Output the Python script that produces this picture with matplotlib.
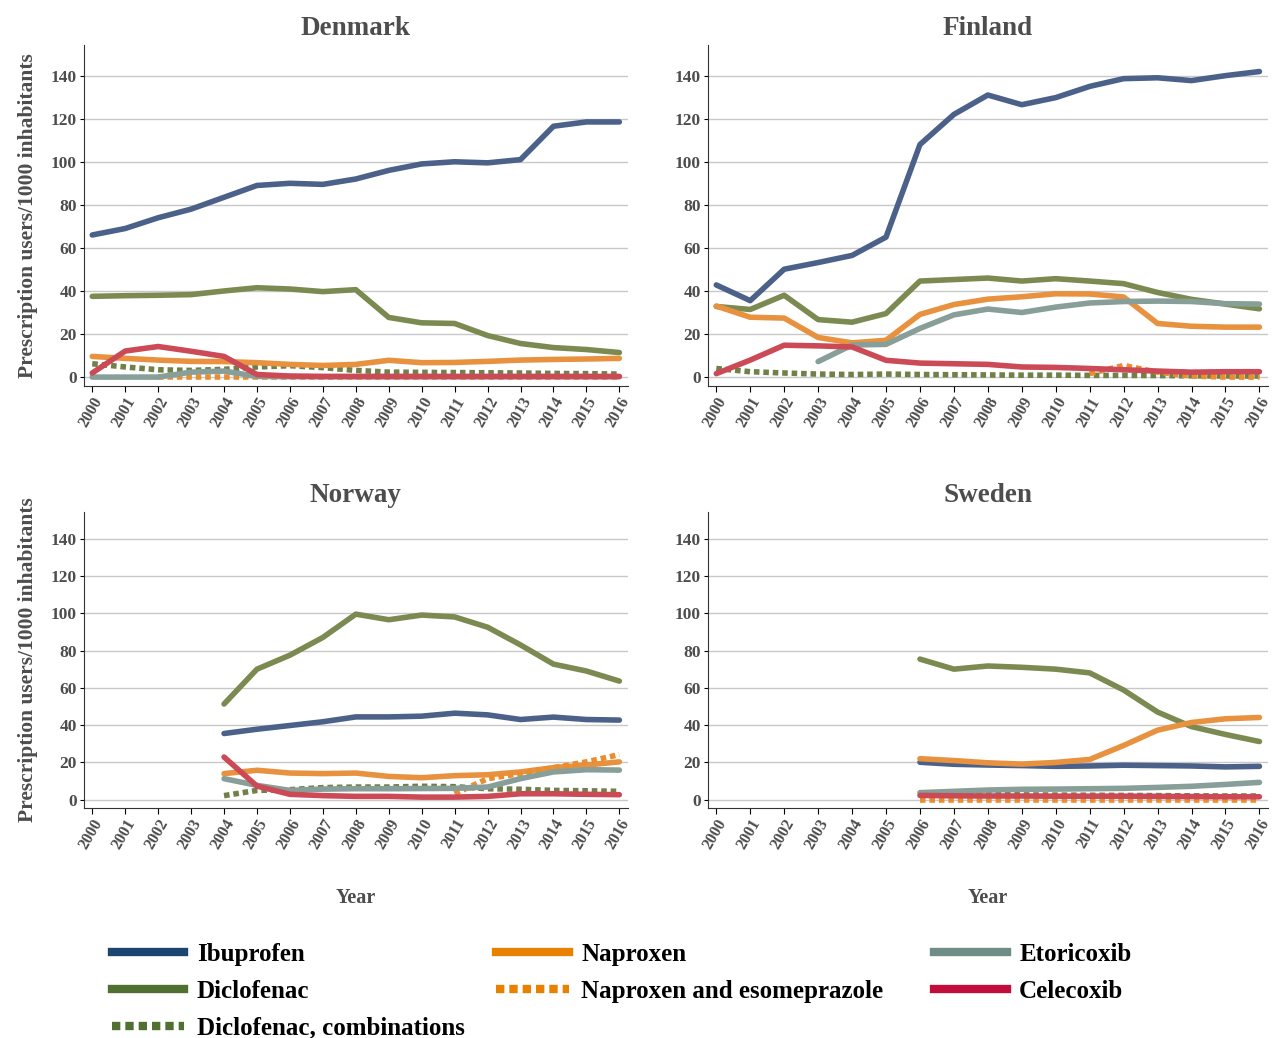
import numpy as np
import matplotlib.pyplot as plt
from matplotlib.lines import Line2D

nan = np.nan
years = list(range(2000, 2017))

drugs = ["Ibuprofen", "Diclofenac", "Diclofenac, combinations", "Naproxen",
         "Naproxen and esomeprazole", "Etoricoxib", "Celecoxib"]

denmark = {
    "Ibuprofen": [66, 69, 74, 78, 83.5, 89, 90, 89.5, 92, 96, 99, 100, 99.5, 101, 116.5, 118.5, 118.5],
    "Diclofenac": [37.5, 37.8, 38, 38.3, 40, 41.5, 40.9, 39.7, 40.6, 27.7, 25.2, 24.9, 19.3, 15.6, 13.7, 12.8, 11.4],
    "Diclofenac, combinations": [6.2, 4.7, 3.4, 3.1, 3.6, 4.7, 5.3, 4.4, 3.1, 2.3, 2.2, 2.1, 2.0, 1.9, 1.7, 1.6, 1.4],
    "Naproxen": [9.6, 8.7, 7.9, 7.3, 7.2, 6.7, 5.9, 5.4, 5.9, 7.8, 6.7, 6.8, 7.3, 7.9, 8.2, 8.4, 8.7],
    "Naproxen and esomeprazole": [nan, nan, 0.2, 0.2, 0.2, 0.2, 0.2, 0.2, 0.2, 0.2, 0.2, 0.2, 0.2, 0.2, 0.2, 0.2, 0.2],
    "Etoricoxib": [0, 0, 0, 2.3, 2.8, 0.3, 0.2, 0.2, 0.2, 0.2, 0.2, 0.2, 0.2, 0.2, 0.2, 0.2, 0.2],
    "Celecoxib": [1.9, 12.1, 14.2, 12, 9.6, 1.2, 0.5, 0.3, 0.3, 0.3, 0.3, 0.3, 0.3, 0.3, 0.3, 0.3, 0.3],
}

finland = {
    "Ibuprofen": [42.8, 35.5, 50.1, 53.2, 56.5, 65, 108, 122, 131, 126.5, 129.8, 135, 138.6, 139, 137.7, 140, 141.9],
    "Diclofenac": [32.8, 31.4, 38, 26.7, 25.5, 29.5, 44.6, 45.3, 46, 44.6, 45.7, 44.6, 43.4, 39.3, 36.1, 33.9, 31.7],
    "Diclofenac, combinations": [4, 2.5, 1.9, 1.4, 1.2, 1.4, 1.2, 1.1, 1.0, 0.9, 0.9, 0.8, 0.8, 0.7, 0.6, 0.5, 0.5],
    "Naproxen": [33, 27.8, 27.4, 18.4, 15.9, 17.1, 29.1, 33.7, 36.2, 37.3, 38.7, 38.6, 37.2, 24.9, 23.6, 23.2, 23.2],
    "Naproxen and esomeprazole": [nan, nan, nan, nan, nan, nan, nan, nan, nan, nan, nan, 1.6, 5.4, 2.3, 0.5, 0, 0],
    "Etoricoxib": [nan, nan, nan, 7.2, 14.9, 15.2, 22.6, 28.9, 31.6, 30, 32.5, 34.4, 35.1, 35.3, 35.1, 34.1, 33.9],
    "Celecoxib": [1.6, 7.9, 14.8, 14.5, 14, 7.8, 6.5, 6.2, 5.9, 4.7, 4.5, 4, 3.4, 2.8, 2.3, 2.5, 2.5],
}

norway = {
    "Ibuprofen": [nan] * 4 + [35.5, 37.8, 39.8, 41.8, 44.4, 44.4, 44.8, 46.4, 45.5, 43, 44.3, 43, 42.7],
    "Diclofenac": [nan] * 4 + [51.3, 70, 77.5, 87, 99.5, 96.5, 99, 98, 92.5, 83, 72.7, 69, 63.6],
    "Diclofenac, combinations": [nan] * 4 + [2.2, 5, 5.4, 6.5, 6.8, 6.8, 7.2, 7, 5.9, 5.6, 5, 4.8, 4.5],
    "Naproxen": [nan] * 4 + [14, 15.8, 14.3, 14, 14.3, 12.5, 11.8, 12.9, 13.4, 14.9, 17.2, 18.6, 20.3],
    "Naproxen and esomeprazole": [nan] * 11 + [3.2, 11.3, 14, 17.2, 20.3, 24.2],
    "Etoricoxib": [nan] * 4 + [11.3, 7.7, 5, 5.7, 5.9, 5.9, 6, 6.1, 6.8, 11.3, 14.9, 16.1, 15.9],
    "Celecoxib": [nan] * 4 + [22.9, 7.3, 2.9, 2.2, 1.8, 1.8, 1.4, 1.4, 1.8, 3.2, 3.2, 2.9, 2.7],
}

sweden = {
    "Ibuprofen": [nan] * 6 + [20.1, 19, 18.6, 18.3, 17.9, 18.1, 18.5, 18.3, 18.1, 17.6, 17.9],
    "Diclofenac": [nan] * 6 + [75.4, 70, 71.7, 71, 70, 68, 58.8, 47, 39.2, 35, 31.2],
    "Diclofenac, combinations": [nan] * 6 + [3.5, 3, 2.8, 2.6, 2.5, 2.4, 2.3, 2.2, 2.1, 2, 2],
    "Naproxen": [nan] * 6 + [22, 21, 19.8, 19.1, 20, 21.6, 29.1, 37.3, 41.4, 43.4, 44.1],
    "Naproxen and esomeprazole": [nan] * 6 + [0.1] * 11,
    "Etoricoxib": [nan] * 6 + [3.8, 4.5, 5.2, 5.6, 5.7, 5.9, 6.1, 6.6, 7.2, 8.2, 9.3],
    "Celecoxib": [nan] * 6 + [2.3, 2.1, 2, 2, 1.9, 1.9, 1.9, 1.8, 1.7, 1.6, 1.6],
}

line_colors = {
    "Ibuprofen": "#4b6189", "Diclofenac": "#7b8a50", "Diclofenac, combinations": "#6f8048",
    "Naproxen": "#e8923f", "Naproxen and esomeprazole": "#ea8d2e",
    "Etoricoxib": "#879e99", "Celecoxib": "#cc4a55",
}
legend_colors = {
    "Ibuprofen": "#1c4670", "Diclofenac": "#4f7030", "Diclofenac, combinations": "#4f7030",
    "Naproxen": "#e88000", "Naproxen and esomeprazole": "#e88000",
    "Etoricoxib": "#6f8d86", "Celecoxib": "#c20d3c",
}
dotted = {"Diclofenac, combinations", "Naproxen and esomeprazole"}

plt.rcParams['font.family'] = ['Liberation Serif', 'DejaVu Serif']
plt.rcParams['font.weight'] = 'bold'
txt = "#4d4d4d"

fig = plt.figure(figsize=(12.73, 10.38), dpi=100)

panels = [
    ("Denmark", denmark, [0.066, 0.628, 0.427, 0.329], True, False),
    ("Finland", finland, [0.556, 0.628, 0.440, 0.329], False, False),
    ("Norway", norway, [0.066, 0.222, 0.427, 0.285], True, True),
    ("Sweden", sweden, [0.556, 0.222, 0.440, 0.285], False, True),
]

for name, data, rect, ylab, xlab in panels:
    ax = fig.add_axes(rect)
    for d in drugs:
        ls = (0, (1, 0.7)) if d in dotted else '-'
        ax.plot(years, data[d], color=line_colors[d], lw=4, ls=ls,
                solid_capstyle='round', solid_joinstyle='round')
    ax.set_xlim(1999.75, 2016.25)
    ax.set_ylim(-4.2, 154.4)
    ax.set_yticks(range(0, 141, 20))
    ax.set_xticks(years)
    ax.set_xticklabels([str(y) for y in years], rotation=60, ha='right',
                       rotation_mode='anchor', fontsize=11.5, fontweight='bold', color=txt)
    ax.tick_params(axis='y', labelsize=12.5, labelcolor=txt, length=3, pad=2)
    ax.tick_params(axis='x', length=4, pad=2)
    for lbl in ax.get_yticklabels():
        lbl.set_fontweight('bold')
    ax.grid(axis='y', color='#c8c8c8', lw=1)
    ax.set_axisbelow(True)
    ax.spines['top'].set_visible(False)
    ax.spines['right'].set_visible(False)
    ax.spines['left'].set_color('#333333')
    ax.spines['bottom'].set_color('#333333')
    ax.set_title(name, fontsize=19.5, fontweight='bold', color=txt, pad=7)
    if ylab:
        ax.set_ylabel("Prescription users/1000 inhabitants", fontsize=15.5,
                      fontweight='bold', color=txt, labelpad=9)
    if xlab:
        ax.set_xlabel("Year", fontsize=14.5, fontweight='bold', color=txt, labelpad=26)

# legend laid out as three separate columns
columns = [(drugs[0:3], 0.080), (drugs[3:5], 0.382), (drugs[5:7], 0.726)]
for names, x0 in columns:
    hs = [Line2D([], [], color=legend_colors[d], lw=6,
                 ls=(0, (1, 0.6)) if d in dotted else '-') for d in names]
    fig.legend(hs, names, loc='upper left', bbox_to_anchor=(x0, 0.101),
               frameon=False, prop={'family': 'Liberation Serif', 'weight': 'bold', 'size': 18},
               handlelength=2.9, handletextpad=0.5, labelspacing=0.55, borderaxespad=0)

plt.savefig('out.png', dpi=100)
